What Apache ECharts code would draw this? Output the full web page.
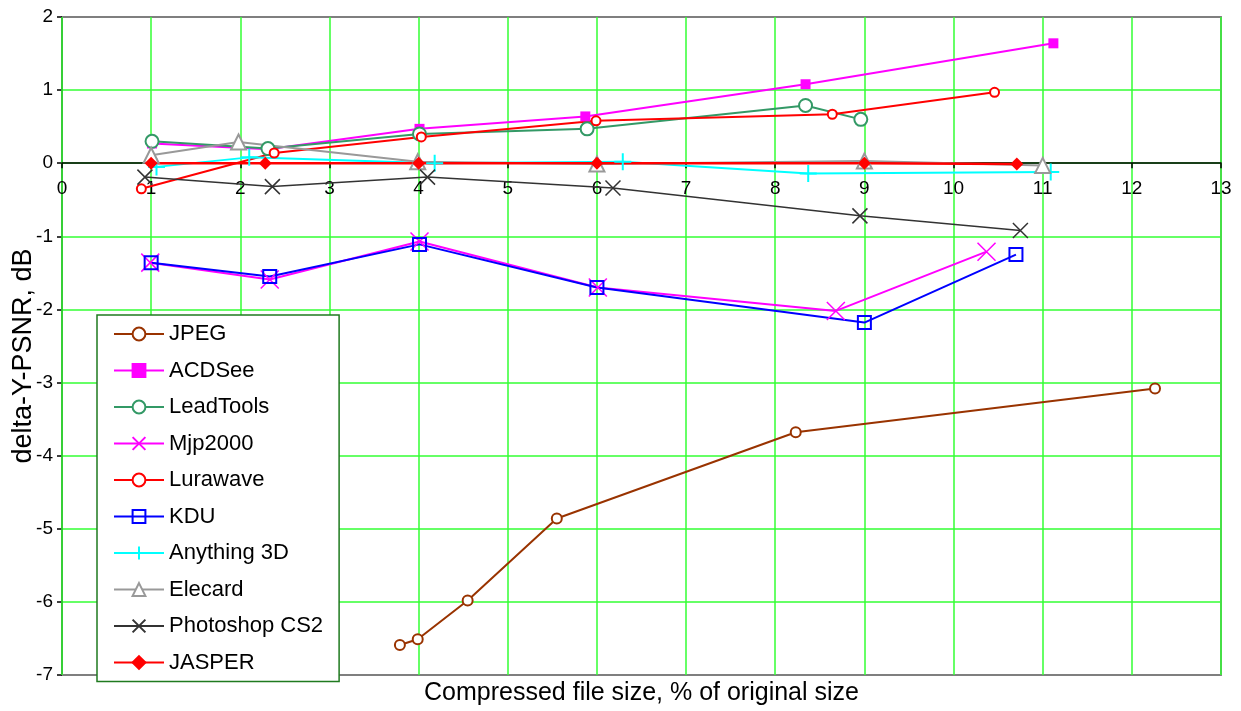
<!DOCTYPE html>
<html>
<head>
<meta charset="utf-8">
<script src="https://cdn.jsdelivr.net/npm/echarts@6/dist/echarts.min.js"></script>
<style>
html,body{margin:0;padding:0;background:#fff;}
#chart{width:1241px;height:711px;}
</style>
</head>
<body>
<div id="chart"></div>
<script>
// ---- data (x = compressed size %, y = delta-Y-PSNR dB) ----
const xTicks = [0,1,2,3,4,5,6,7,8,9,10,11,12,13];
const yTicks = [2,1,0,-1,-2,-3,-4,-5,-6,-7];

const seriesNames = ['JPEG','ACDSee','LeadTools','Mjp2000','Lurawave','KDU','Anything 3D','Elecard','Photoshop CS2','JASPER'];

const jpegX = [3.79, 3.99, 4.55, 5.55, 8.23, 12.26];
const jpegY = [-6.59, -6.51, -5.98, -4.86, -3.68, -3.08];

const acdseeX = [1.01, 2.31, 4.01, 5.87, 8.34, 11.12];
const acdseeY = [0.27, 0.19, 0.47, 0.64, 1.08, 1.64];

const leadtoolsX = [1.01, 2.31, 4.01, 5.89, 8.34, 8.96];
const leadtoolsY = [0.30, 0.20, 0.40, 0.47, 0.79, 0.60];

const mjpX = [0.99, 2.33, 4.01, 6.01, 8.68, 10.37];
const mjpY = [-1.36, -1.59, -1.07, -1.70, -2.02, -1.21];

const lurawaveX = [0.89, 2.38, 4.03, 5.99, 8.64, 10.46];
const lurawaveY = [-0.35, 0.14, 0.36, 0.58, 0.67, 0.97];

const kduX = [1.00, 2.33, 4.01, 6.00, 9.00, 10.70];
const kduY = [-1.36, -1.55, -1.11, -1.70, -2.18, -1.25];

const anything3dX = [1.06, 2.10, 4.18, 6.29, 8.37, 11.09];
const anything3dY = [-0.05, 0.08, 0.00, 0.02, -0.14, -0.12];

const elecardX = [1.00, 1.98, 3.99, 6.00, 9.00, 11.00];
const elecardY = [0.11, 0.29, 0.02, -0.01, 0.03, -0.03];

const photoshopX = [0.93, 2.36, 4.10, 6.18, 8.95, 10.75];
const photoshopY = [-0.19, -0.32, -0.19, -0.34, -0.72, -0.92];

const jasperX = [1.00, 2.28, 4.00, 6.00, 9.00, 10.71];
const jasperY = [0.00, 0.00, 0.00, 0.00, 0.00, -0.01];

// ---- helpers ----
function zip(xs, ys){ return xs.map((x,i)=>[x, ys[i]]); }
const FONT = "'Liberation Sans', Arial, sans-serif";
const X_PATH = 'path://M0,0L10,10M10,0L0,10';
const PLUS_PATH = 'path://M5,0L5,10M0,5L10,5';
const SQ_PATH = 'path://M0,0L10,0L10,10L0,10Z';

const Y_MIN = -7, Y_MAX = 2;
const GRID = {left: 62, right: 20, top: 17, bottom: 36};
const GRID_H = 711 - GRID.top - GRID.bottom;
// move the labelled x axis from the grid bottom up to the y = 0 line
const X_AXIS_OFFSET = -GRID_H * (0 - Y_MIN) / (Y_MAX - Y_MIN);

function mk(name, xs, ys, color, symbol, size, opts){
  opts = opts || {};
  return {
    name: name,
    type: 'line',
    data: zip(xs, ys),
    symbol: symbol,
    symbolSize: size,
    showAllSymbol: true,
    lineStyle: {color: color, width: opts.lw || 2},
    itemStyle: {
      color: opts.fill !== undefined ? opts.fill : color,
      borderColor: color,
      borderWidth: opts.bw || 1.5
    },
    emphasis: {disabled: true},
    animation: false
  };
}

const series = [
  mk('JPEG', jpegX, jpegY, '#993300', 'emptyCircle', 10, {lw:2, bw:1.5}),
  mk('ACDSee', acdseeX, acdseeY, '#ff00ff', 'rect', 10, {lw:2, bw:0.01}),
  mk('LeadTools', leadtoolsX, leadtoolsY, '#339966', 'emptyCircle', 13, {lw:2, bw:1.5}),
  mk('Mjp2000', mjpX, mjpY, '#ff00ff', X_PATH, 18, {lw:2, bw:1.5}),
  mk('Lurawave', lurawaveX, lurawaveY, '#ff0000', 'emptyCircle', 9, {lw:2, bw:1.5}),
  mk('KDU', kduX, kduY, '#0000ff', SQ_PATH, 13, {lw:2, bw:2, fill:'rgba(0,0,0,0)'}),
  mk('Anything 3D', anything3dX, anything3dY, '#00ffff', PLUS_PATH, 17, {lw:2, bw:2}),
  mk('Elecard', elecardX, elecardY, '#999999', 'emptyTriangle', 15, {lw:2, bw:1.5}),
  mk('Photoshop CS2', photoshopX, photoshopY, '#333333', X_PATH, 15, {lw:1.5, bw:1.5}),
  mk('JASPER', jasperX, jasperY, '#ff0000', 'diamond', 13, {lw:2.5, bw:0.01})
];

const chart = echarts.init(document.getElementById('chart'), null, {renderer:'canvas'});
chart.setOption({
  animation: false,
  backgroundColor: '#ffffff',
  textStyle: {fontFamily: FONT},
  grid: {
    left: GRID.left, right: GRID.right, top: GRID.top, bottom: GRID.bottom,
    show: false, outerBoundsMode: 'none', containLabel: false
  },
  legend: {
    orient: 'vertical',
    left: 97, top: 315,
    data: seriesNames,
    itemWidth: 50, itemHeight: 16, itemGap: 14.5,
    padding: [8, 16, 8, 16],
    backgroundColor: '#ffffff',
    borderColor: '#1f7a1f', borderWidth: 1.5, borderRadius: 0,
    textStyle: {fontSize: 22, color: '#000', fontFamily: FONT, lineHeight: 22},
    selectedMode: false
  },
  xAxis: [{
    type: 'value', min: 0, max: 13, interval: 1,
    position: 'bottom', offset: X_AXIS_OFFSET,
    axisLine: {show: true, onZero: false, lineStyle: {color: '#000', width: 1.5}},
    axisTick: {show: true, inside: false, length: 5, lineStyle: {color: '#000', width: 1.5}},
    axisLabel: {fontSize: 19, color: '#000', margin: 16, fontFamily: FONT,
      formatter: v => xTicks.indexOf(v) >= 0 ? String(v) : ''},
    splitLine: {show: true, lineStyle: {color: '#33ff33', width: 1.5}},
    z: 3
  }, {
    type: 'value', min: 0, max: 13, position: 'bottom',
    axisLine: {show: true, onZero: false, lineStyle: {color: '#7f7f7f', width: 2}},
    axisTick: {show: false}, axisLabel: {show: false}, splitLine: {show: false},
    name: 'Compressed file size, % of original size',
    nameLocation: 'middle', nameGap: 6, nameMoveOverlap: false,
    nameTextStyle: {fontSize: 25, color: '#000', fontFamily: FONT, verticalAlign: 'top'}
  }, {
    type: 'value', min: 0, max: 13, position: 'top',
    axisLine: {show: true, onZero: false, lineStyle: {color: '#7f7f7f', width: 2}},
    axisTick: {show: false}, axisLabel: {show: false}, splitLine: {show: false}
  }],
  yAxis: [{
    type: 'value', min: Y_MIN, max: Y_MAX, interval: 1,
    position: 'left',
    axisLine: {show: true, onZero: false, lineStyle: {color: '#000', width: 1.5}},
    axisTick: {show: true, inside: false, length: 5, lineStyle: {color: '#000', width: 1.5}},
    axisLabel: {fontSize: 19, color: '#000', margin: 9, fontFamily: FONT,
      formatter: v => yTicks.indexOf(v) >= 0 ? String(v) : ''},
    splitLine: {show: true, lineStyle: {color: '#33ff33', width: 1.5}},
    name: 'delta-Y-PSNR, dB',
    nameLocation: 'middle', nameRotate: 90, nameGap: 25, nameMoveOverlap: false,
    nameTextStyle: {fontSize: 27, color: '#000', fontFamily: FONT, padding: [0, 20, 0, 0]}
  }, {
    type: 'value', min: Y_MIN, max: Y_MAX, position: 'right',
    axisLine: {show: true, onZero: false, lineStyle: {color: '#7f7f7f', width: 2}},
    axisTick: {show: false}, axisLabel: {show: false}, splitLine: {show: false}
  }],
  series: series
});
</script>
</body>
</html>
